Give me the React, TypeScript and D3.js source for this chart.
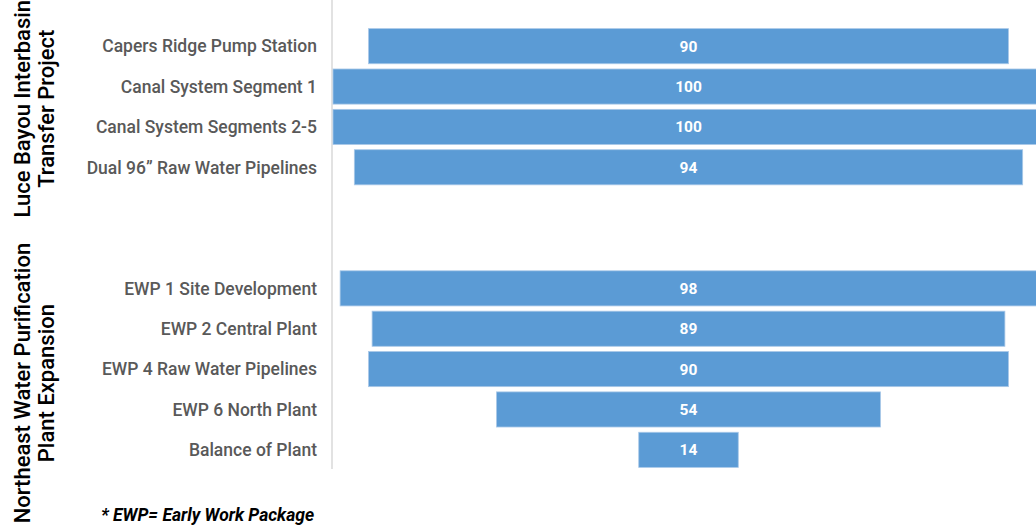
import React, { useRef, useEffect } from 'react';
import * as d3 from 'd3';

// Row categories (blank slots separate the two projects)
const categories = [
  'Capers Ridge Pump Station',
  'Canal System Segment 1',
  'Canal System Segments 2-5',
  'Dual 96\u201D Raw Water Pipelines',
  '__gap1',
  '__gap2',
  'EWP 1 Site Development',
  'EWP 2 Central Plant',
  'EWP 4 Raw Water Pipelines',
  'EWP 6 North Plant',
  'Balance of Plant',
];

const percentComplete = [90, 100, 100, 94, null, null, 98, 89, 90, 54, 14];

const groupLabels = [
  ['Luce Bayou Interbasin', 'Transfer Project'],
  ['Northeast Water Purification', 'Plant Expansion'],
];
const groupRows = [
  ['Capers Ridge Pump Station', 'Dual 96\u201D Raw Water Pipelines'],
  ['EWP 1 Site Development', 'Balance of Plant'],
];

const footnote = '* EWP= Early Work Package';

const WIDTH = 1036;
const HEIGHT = 527;

export default function App() {
  const svgRef = useRef<SVGSVGElement>(null);

  useEffect(() => {
    if (!svgRef.current) return;
    const root = d3.select(svgRef.current);
    root.selectAll('*').remove();

    const axisX = 332;
    const centerX = 688.5;

    const y = d3
      .scaleBand<string>()
      .domain(categories)
      .range([26, 470])
      .paddingInner(0.13)
      .paddingOuter(0.065);

    // half-width scale: bar spans centre +/- w(value)
    const w = d3.scaleLinear().domain([0, 100]).range([0, 355.5]);

    // axis line
    root
      .append('line')
      .attr('x1', axisX)
      .attr('x2', axisX)
      .attr('y1', 0)
      .attr('y2', 469)
      .attr('stroke', '#d9d9d9')
      .attr('stroke-width', 1.5);

    const rows = categories
      .map((c, i) => ({ name: c, value: percentComplete[i] }))
      .filter((d) => d.value !== null) as { name: string; value: number }[];

    const bars = root.append('g');

    bars
      .selectAll('rect')
      .data(rows)
      .enter()
      .append('rect')
      .attr('x', (d) => centerX - w(d.value))
      .attr('y', (d) => y(d.name)!)
      .attr('width', (d) => 2 * w(d.value))
      .attr('height', y.bandwidth())
      .attr('fill', '#5b9bd5')
      .attr('stroke', '#a9c8e8')
      .attr('stroke-width', 0.8);

    bars
      .selectAll('.value-label')
      .data(rows)
      .enter()
      .append('text')
      .attr('class', 'value-label')
      .attr('x', centerX)
      .attr('y', (d) => y(d.name)! + y.bandwidth() / 2)
      .attr('dy', '0.36em')
      .attr('text-anchor', 'middle')
      .attr('fill', '#ffffff')
      .attr('font-family', 'Roboto, sans-serif')
      .attr('font-size', '15.5px')
      .attr('font-weight', 'bold')
      .text((d) => d.value);

    // category labels
    root
      .append('g')
      .selectAll('text')
      .data(rows)
      .enter()
      .append('text')
      .attr('x', 317)
      .attr('y', (d) => y(d.name)! + y.bandwidth() / 2)
      .attr('dy', '0.36em')
      .attr('text-anchor', 'end')
      .attr('fill', '#595959')
      .attr('font-family', 'Roboto, sans-serif')
      .attr('font-size', '17.5px')
      .attr('font-weight', 500)
      .text((d) => d.name);

    // group labels, rotated
    const groupShift = [2, 14];
    groupLabels.forEach((lines, gi) => {
      const [a, b] = groupRows[gi];
      const mid = (y(a)! + y(b)! + y.bandwidth()) / 2 + groupShift[gi];
      const t = root
        .append('text')
        .attr('transform', `translate(0, ${mid}) rotate(-90)`)
        .attr('text-anchor', 'middle')
        .attr('fill', '#000000')
        .attr('font-family', 'Roboto, sans-serif')
        .attr('font-size', '22px')
        .attr('font-weight', 500);
      lines.forEach((line, li) => {
        t.append('tspan')
          .attr('x', 0)
          .attr('y', 30 + li * 24)
          .text(line);
      });
    });

    root
      .append('text')
      .attr('x', 101)
      .attr('y', 521)
      .attr('fill', '#000000')
      .attr('font-family', 'Roboto, sans-serif')
      .attr('font-size', '17.5px')
      .attr('font-style', 'italic')
      .attr('font-weight', 'bold')
      .text(footnote);
  }, []);

  return (
    <div style={{ position: 'fixed', left: 0, top: 0, width: WIDTH, height: HEIGHT, background: '#ffffff' }}>
      <svg ref={svgRef} width={WIDTH} height={HEIGHT} style={{ display: 'block' }} />
    </div>
  );
}
